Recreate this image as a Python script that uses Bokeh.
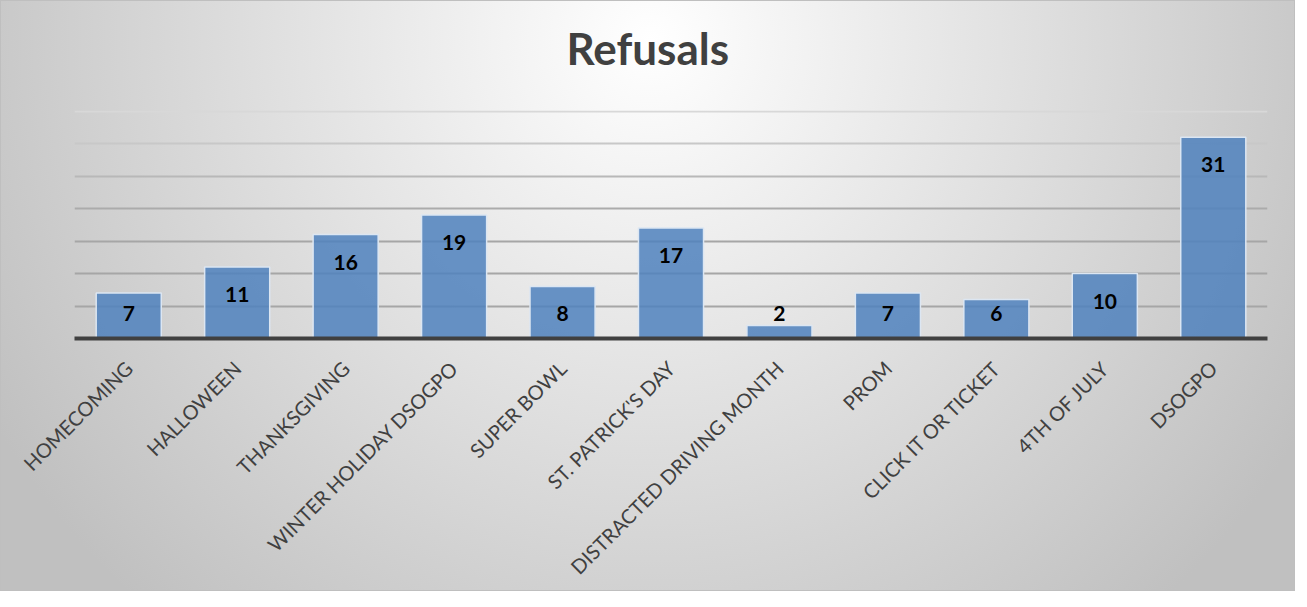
import math
from bokeh.plotting import figure
from bokeh.models import ColumnDataSource, Range1d, Grid, FixedTicker, LabelSet, Title
from bokeh.core.properties import value
from bokeh.embed import file_html
from bokeh.resources import INLINE

categories = ["HOMECOMING", "HALLOWEEN", "THANKSGIVING", "WINTER HOLIDAY DSOGPO",
              "SUPER BOWL", "ST. PATRICK'S DAY", "DISTRACTED DRIVING MONTH", "PROM",
              "CLICK IT OR TICKET", "4TH OF JULY", "DSOGPO"]
values = [7, 11, 16, 19, 8, 17, 2, 7, 6, 10, 31]
grid_ticks = [5, 10, 15, 20, 25, 30, 35]
grid_colors = ["#a6a6a6", "#a6a6a6", "#a6a6a6", "#ababab", "#b8b8b8", "#c8c8c8", "#d8d8d8"]

Y_MAX = 35
Y_TOP = 35.1
FRAME_H = 228
px = FRAME_H / Y_TOP
label_y = [max(v - 27.5 / px, 25.5 / px) for v in values]

src = ColumnDataSource(dict(cat=categories, val=values, ly=label_y, txt=[str(v) for v in values]))

p = figure(x_range=categories, y_range=Range1d(0, Y_TOP), width=1295, height=591,
           output_backend="svg", toolbar_location=None,
           min_border_left=74, min_border_right=28, min_border_top=110, min_border_bottom=253)

p.background_fill_color = None
p.border_fill_color = None
p.outline_line_color = None
p.styles = {"background": "radial-gradient(circle 760px at 650px 40px, #ffffff 0%, #c0c0c0 100%)",
            "box-shadow": "inset 0 0 0 1px #bfbfbf"}

p.xgrid.grid_line_color = None
p.ygrid.grid_line_color = None
for t, c in zip(grid_ticks, grid_colors):
    p.add_layout(Grid(dimension=1, ticker=FixedTicker(ticks=[t]), grid_line_color=c, grid_line_width=2))

p.vbar(x="cat", top="val", width=0.6, source=src, fill_color="#4f81bd", fill_alpha=0.85,
       line_color="#dce6f2", line_width=1.5)

p.add_layout(LabelSet(x="cat", y="ly", text="txt", source=src, text_align="center",
                      text_baseline="middle", text_font=value("Lato"), text_font_style="bold",
                      text_font_size="21px", text_color="#000000"))

p.yaxis.visible = False
ax = p.xaxis[0]
ax.axis_line_color = "#404040"
ax.axis_line_width = 4
ax.major_tick_line_color = None
ax.minor_tick_line_color = None
ax.major_label_orientation = math.pi / 4
ax.major_label_text_font = "Lato"
ax.major_label_text_font_size = "20px"
ax.major_label_text_color = "#404040"
ax.major_label_standoff = 20

p.title = Title(text="Refusals\n ", align="left", text_font="Lato", text_font_style="bold",
                text_font_size="44px", text_color="#404040", standoff=-30, offset=492)

open("out.html", "w").write(file_html(p, INLINE))
